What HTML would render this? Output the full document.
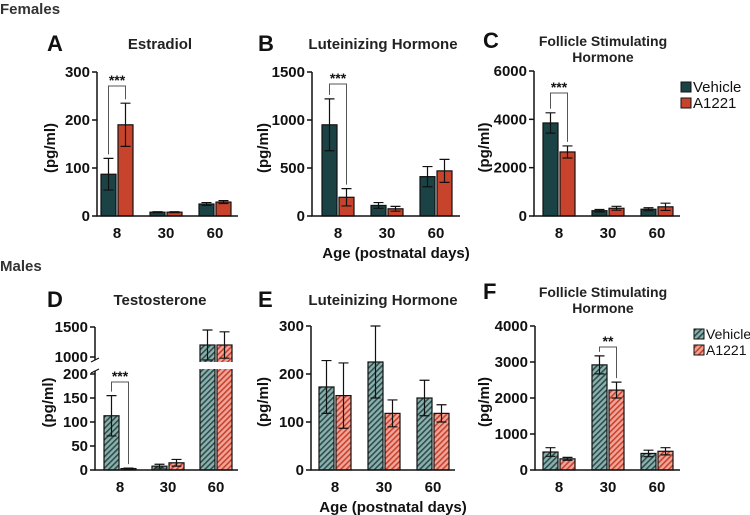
<!DOCTYPE html>
<html><head><meta charset="utf-8"><style>
body{margin:0;background:#fff;width:750px;height:515px;overflow:hidden}
svg{display:block;font-family:"Liberation Sans",Arial,sans-serif;font-weight:bold}
</style></head><body>
<svg id="fig" width="750" height="515" viewBox="0 0 750 515">
<defs>
<pattern id="hv" width="4" height="4" patternUnits="userSpaceOnUse" patternTransform="rotate(45)"><rect width="4" height="4" fill="#8eb0ad"/><rect width="1.6" height="4" fill="#2a4e4e"/></pattern>
<pattern id="ha" width="4" height="4" patternUnits="userSpaceOnUse" patternTransform="rotate(45)"><rect width="4" height="4" fill="#f0a49a"/><rect width="1.6" height="4" fill="#c8432b"/></pattern>
</defs>
<text x="0" y="14" font-size="15" fill="#333">Females</text>
<text x="0" y="271" font-size="15" fill="#333">Males</text>
<g id="root"></g>
</svg>
<script>
const categories=["8","30","60"];
const aVeh=[87,8,25], aVehErr=[33,1,3], aA=[190,8,29], aAErr=[45,1,3];
const bVeh=[950,110,410], bVehErr=[270,30,105], bA=[195,75,470], bAErr=[90,25,120];
const cVeh=[3850,220,280], cVehErr=[420,50,60], cA=[2650,320,380], cAErr=[250,80,150];
const dVeh=[113,8,1200], dVehErr=[42,4,250], dA=[3,15,1200], dAErr=[1,7,220];
const eVeh=[173,225,150], eVehErr=[55,75,37], eA=[155,118,118], eAErr=[68,28,18];
const fVeh=[500,2920,460], fVehErr=[120,250,90], fA=[310,2220,520], fAErr=[40,220,100];
const ticksA=[0,100,200,300], ticksB=[0,500,1000,1500], ticksC=[0,2000,4000,6000];
const ticksDlow=[0,50,100,150,200], ticksDhigh=[1000,1500];
const ticksE=[0,100,200,300], ticksF=[0,1000,2000,3000,4000];
const NS="http://www.w3.org/2000/svg";
const root=document.getElementById('root');
function el(tag,attrs,parent,txt){const e=document.createElementNS(NS,tag);for(const k in attrs)e.setAttribute(k,attrs[k]);if(txt!=null)e.textContent=txt;(parent||root).appendChild(e);return e;}

function panel(p){
  const g=el('g',{});
  
  
  let ys;
  if(p.broken){
    ys=v=> v<=200 ? p.y0-(v/200)*(p.y0-374) : 357-((v-1000)/500)*(357-327);
  } else ys=v=>p.y0-(v/p.max)*(p.y0-p.yTop);
  const xs=i=>p.x0+p.off+i*p.pitch;
  const bw=15;
  categories.forEach((c,i)=>{
    [[p.veh,p.vehErr,-1,'veh'],[p.a,p.aErr,1,'a1221']].forEach(([vals,errs,s,nm])=>{
      const cx=xs(i)+s*(bw/2+1);
      const v=vals[i], top=ys(v);
      const r=el('rect',{x:cx-bw/2,y:top,width:bw,height:p.y0-top,fill:p.hatch?(nm==='veh'?'url(#hv)':'url(#ha)'):(nm==='veh'?'#1b4345':'#c8432b'),stroke:'#111','stroke-width':1.2},g);
      
      
      const hi=ys(v+errs[i]), lo=ys(Math.max(0,v-errs[i]));
      const eb=el('path',{d:`M${cx},${hi}V${lo}M${cx-5},${hi}H${cx+5}M${cx-5},${lo}H${cx+5}`,stroke:'#111','stroke-width':1.2,fill:'none'},g);
      
      
    });
    const t=el('text',{x:xs(i),y:p.y0+22,'font-size':15,'text-anchor':'middle',fill:'#111'},g,c);
    
    
  });
  if(p.broken){
    el('rect',{x:p.x0+1,y:362,width:p.x1-p.x0,height:7,fill:'#fff'},g);
  }
  const ax=el('path',{d:p.broken?`M${p.x0},${ys(1500)}V${ys(1000)+3}M${p.x0},${ys(200)-3}V${p.y0}H${p.x1}`:`M${p.x0},${p.yTop}V${p.y0}H${p.x1}`,stroke:'#111','stroke-width':1.5,fill:'none'},g);
  
  
  if(p.broken){el('path',{d:`M${p.x0-4},${ys(1000)+5}L${p.x0+4},${ys(1000)+1}M${p.x0-4},${ys(200)-1}L${p.x0+4},${ys(200)-5}`,stroke:'#111','stroke-width':1.2},g);}
  p.ticks.forEach(t=>{
    el('line',{x1:p.x0-5,x2:p.x0,y1:ys(t),y2:ys(t),stroke:'#111','stroke-width':1.5},g);
    const tl=el('text',{x:p.x0-7,y:ys(t)+5,'font-size':15,'text-anchor':'end',fill:'#111'},g,String(t));
    
    
  });
  const yl=el('text',{transform:`translate(${p.ylx},${(p.yTop+p.y0)/2+4}) rotate(-90)`,'font-size':15,'text-anchor':'middle',fill:'#111'},g,'(pg/ml)');
  
  
  const L=el('text',{x:p.lx,y:p.ty+2,'font-size':22,fill:'#111'},g,p.letter);
  
  
  p.title.forEach((s,k)=>{
    const tt=el('text',{x:p.tx,y:p.ty+k*16,'font-size':p.title.length>1?14:15,'text-anchor':'middle',fill:'#222'},g,s);
    
    
  });
  if(p.sig){
    const i=p.sig.i, x1=xs(i)-(bw/2+1), x2=xs(i)+(bw/2+1);
    const yb=p.sig.y;
    const br=el('path',{d:`M${x1},${ys(p.veh[i]+p.vehErr[i])-4}V${yb}H${x2}V${ys(p.a[i]+p.aErr[i])-4}`,stroke:'#555','stroke-width':1,fill:'none'},g);
    
    
    const st=el('text',{x:(x1+x2)/2,y:yb-1,'font-size':14,'text-anchor':'middle',fill:'#111'},g,p.sig.s);
    
    
  }
  if(p.legend){
    [['Vehicle',p.hatch?'url(#hv)':'#1b4345'],['A1221',p.hatch?'url(#ha)':'#c8432b']].forEach(([n,f],k)=>{
      const lg=el('g',{},g);
      
      
      el('rect',{x:p.legend[0],y:p.legend[1]+k*16-10,width:10,height:10,fill:f,stroke:'#111','stroke-width':1},lg);
      const lt=el('text',{x:p.legend[0]+12,y:p.legend[1]+k*16,'font-size':p.legfs||15,'font-weight':'normal',fill:'#111'},lg,n);
    });
  }
  if(p.xtitle){
    const xt=el('text',{x:p.x0+(p.x1-p.x0)/2+10,y:p.y0+42,'font-size':15,'text-anchor':'middle',fill:'#111'},g,'Age (postnatal days)');
    
    
  }
}
panel({name:'panel-a-estradiol',letter:'A',lx:47,tx:160,ty:49,title:['Estradiol'],x0:97,x1:238,off:20,pitch:49,y0:216,yTop:72,max:300,ticks:ticksA,ylx:55,veh:aVeh,vehErr:aVehErr,a:aA,aErr:aAErr,sig:{i:0,y:86,s:'***'}});
panel({name:'panel-b-lh-females',letter:'B',lx:258,tx:383,ty:49,title:['Luteinizing Hormone'],x0:312,x1:460,off:26,pitch:49,y0:216,yTop:72,max:1500,ticks:ticksB,ylx:268,veh:bVeh,vehErr:bVehErr,a:bA,aErr:bAErr,sig:{i:0,y:84,s:'***'},xtitle:true});
panel({name:'panel-c-fsh-females',letter:'C',lx:483,tx:603,ty:46,title:['Follicle Stimulating','Hormone'],x0:534,x1:680,off:25,pitch:49,y0:216,yTop:71,max:6000,ticks:ticksC,ylx:489,veh:cVeh,vehErr:cVehErr,a:cA,aErr:cAErr,sig:{i:0,y:93,s:'***'},legend:[681,92]});
panel({name:'panel-d-testosterone',letter:'D',lx:47,tx:160,ty:305,title:['Testosterone'],x0:95,x1:238,off:25,pitch:48,y0:470,yTop:327,broken:true,ticks:[...ticksDlow,...ticksDhigh],ylx:53,veh:dVeh,vehErr:dVehErr,a:dA,aErr:dAErr,sig:{i:0,y:382,s:'***'},hatch:true});
panel({name:'panel-e-lh-males',letter:'E',lx:258,tx:383,ty:305,title:['Luteinizing Hormone'],x0:311,x1:455,off:24,pitch:49,y0:470,yTop:326,max:300,ticks:ticksE,ylx:268,veh:eVeh,vehErr:eVehErr,a:eA,aErr:eAErr,hatch:true,xtitle:true});
panel({name:'panel-f-fsh-males',letter:'F',lx:483,tx:603,ty:297,title:['Follicle Stimulating','Hormone'],x0:535,x1:680,off:24,pitch:49,y0:470,yTop:326,max:4000,ticks:ticksF,ylx:489,veh:fVeh,vehErr:fVehErr,a:fA,aErr:fAErr,sig:{i:1,y:347,s:'**'},hatch:true,legend:[694,339],legfs:14});
</script>
</body></html>
